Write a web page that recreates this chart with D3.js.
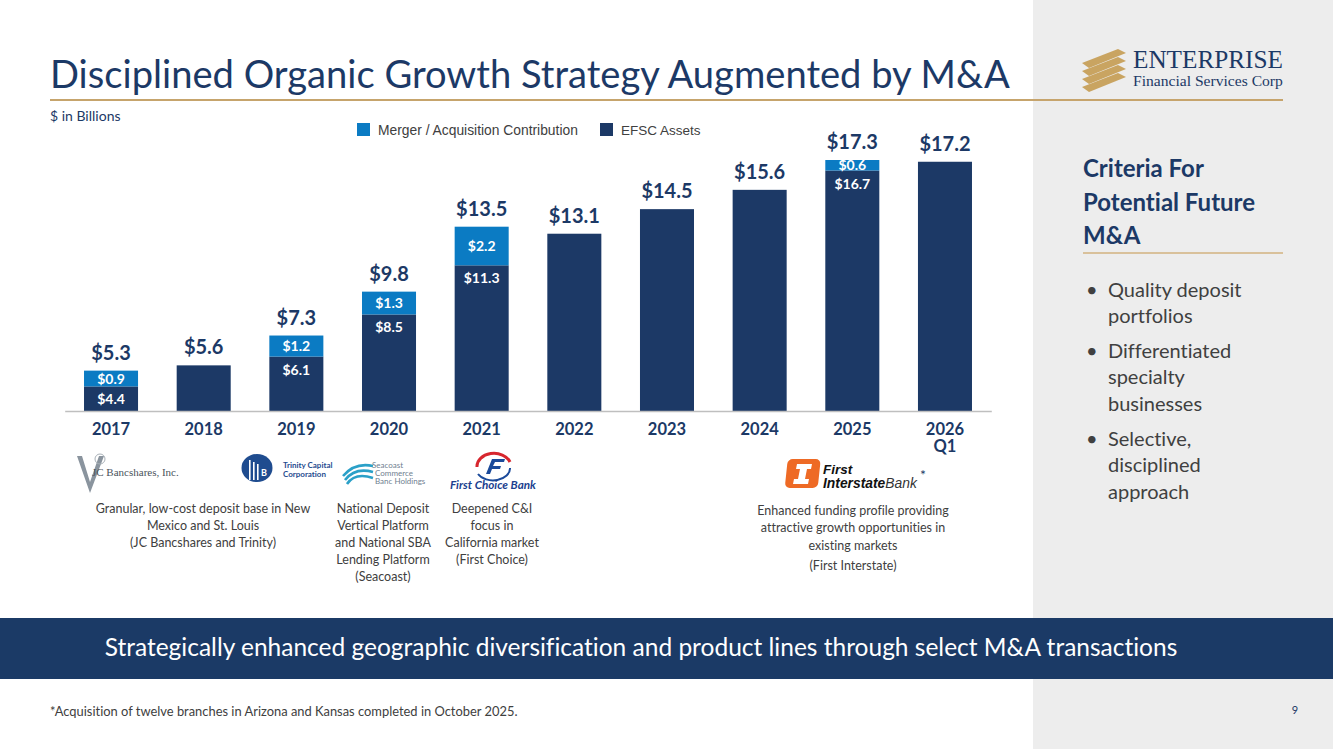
<!DOCTYPE html>
<html><head><meta charset="utf-8">
<script src="https://cdn.jsdelivr.net/npm/d3@7"></script>
<style>body{margin:0;background:#fff;} svg{display:block;} text{font-variant-ligatures:none;font-feature-settings:"liga" 0;}</style>
</head><body><svg id="c" width="1333" height="749"></svg>
<script>
// ---------- DATA ----------
const categories = ["2017","2018","2019","2020","2021","2022","2023","2024","2025","2026 Q1"];
const efscAssets = [4.4, 5.6, 6.1, 8.5, 11.3, 13.1, 14.5, 15.6, 16.7, 17.2];
const mergerContribution = [0.9, 0, 1.2, 1.3, 2.2, 0, 0, 0, 0.6, 0];
const seriesNames = ["Merger / Acquisition Contribution", "EFSC Assets"];
const titleText = "Disciplined Organic Growth Strategy Augmented by M&A";
const unitText = "$ in Billions";
const criteriaTitle = ["Criteria For", "Potential Future", "M&A"];
const bullets = [["Quality deposit","portfolios"],["Differentiated","specialty","businesses"],["Selective,","disciplined","approach"]];
const descriptions = [
  {lines:["Granular, low-cost deposit base in New","Mexico and St. Louis","(JC Bancshares and Trinity)"]},
  {lines:["National Deposit","Vertical Platform","and National SBA","Lending Platform","(Seacoast)"]},
  {lines:["Deepened C&I","focus in","California market","(First Choice)"]},
  {lines:["Enhanced funding profile providing","attractive growth opportunities in","existing markets","(First Interstate)"]}
];
const bannerText = "Strategically enhanced geographic diversification and product lines through select M&A transactions";
const footnoteText = "*Acquisition of twelve branches in Arizona and Kansas completed in October 2025.";
const pageNumber = "9";

// ---------- STYLE ----------
const NAVY = "#1c3966", LIGHT = "#0b7bc3", GREY = "#404040", GOLD = "#c6a46c";
const SANS = "Lato, 'Open Sans', sans-serif";
const svg = d3.select("#c");

function fit(sel, w) {
  const l = sel.node().getComputedTextLength();
  const fs = parseFloat(sel.attr("font-size"));
  sel.attr("font-size", fs * w / l);
  return fs * w / l;
}

// right panel background
svg.append("rect").attr("x",1033).attr("y",0).attr("width",300).attr("height",749).attr("fill","#ededed");

// title
const title = svg.append("text").attr("x",50).attr("y",88).attr("font-family",SANS)
  .attr("font-size",40).attr("fill",NAVY).text(titleText);
fit(title, 960);
svg.append("line").attr("x1",50).attr("x2",1283).attr("y1",100).attr("y2",100).attr("stroke",GOLD).attr("stroke-width",2);
svg.append("text").attr("x",50).attr("y",121).attr("font-family",SANS).attr("font-size",14).attr("fill",NAVY).text(unitText);

// Enterprise logo
const logo = svg.append("g");
for (let i = 0; i < 4; i++) {
  const o = i * 8;
  logo.append("polygon").attr("fill","#c9a461")
    .attr("points", [[1082,63+o],[1118,49+o],[1126,53+o],[1089,68+o]].map(p=>p.join(",")).join(" "));
}
const ent = logo.append("text").attr("x",1133).attr("y",68).attr("font-family","'Liberation Serif', serif")
  .attr("font-size",27).attr("fill",NAVY).text("ENTERPRISE");
fit(ent, 150);
const fsc = logo.append("text").attr("x",1133).attr("y",86).attr("font-family","'Liberation Serif', serif")
  .attr("font-size",15).attr("fill",NAVY).text("Financial Services Corp");
fit(fsc, 150);

// ---------- CHART ----------
const x = d3.scaleBand().domain(categories).range([64.7, 991.3]).paddingInner(0.417).paddingOuter(0.2085);
const y = d3.scaleLinear().domain([3, 17.3]).range([411, 160]);

const rows = categories.map((c,i)=>({cat:c, efsc:efscAssets[i], merger:mergerContribution[i]}));
const stack = d3.stack().keys(["efsc","merger"])(rows);
const colors = {efsc:NAVY, merger:LIGHT};

const chart = svg.append("g");
stack.forEach(layer => {
  chart.append("g").selectAll("rect").data(layer.filter(d=>d[1]>d[0])).join("rect")
    .attr("x", d=>x(d.data.cat)).attr("width", x.bandwidth())
    .attr("y", d=>y(d[1])).attr("height", d=>y(Math.max(d[0],3)) - y(d[1]))
    .attr("fill", colors[layer.key]);
});

// x axis
const axis = svg.append("g").attr("transform","translate(0,411)")
  .call(d3.axisBottom(x).tickSize(0).tickSizeOuter(0));
axis.select(".domain").attr("stroke","#bfbfbf").attr("stroke-width",1.5);
axis.selectAll(".tick text").each(function(d){
  const t = d3.select(this).attr("y",24).attr("dy",null).text(null)
    .attr("font-family",SANS).attr("font-size",16.5).attr("font-weight",700).attr("fill",NAVY);
  d.split(" ").forEach((p,k)=>t.append("tspan").attr("x",0).attr("dy",k?17:0).text(p));
});

// total labels
chart.append("g").selectAll("text").data(rows).join("text")
  .attr("x", d=>x(d.cat)+x.bandwidth()/2).attr("y", d=>y(d.efsc+d.merger)-11)
  .attr("text-anchor","middle").attr("font-family",SANS).attr("font-size",20).attr("font-weight",700)
  .attr("fill",NAVY).text(d=>"$"+(d.efsc+d.merger).toFixed(1));

// inner labels for stacked bars
const stacked = rows.filter(d=>d.merger>0);
chart.append("g").selectAll("text").data(stacked).join("text")
  .attr("x", d=>x(d.cat)+x.bandwidth()/2).attr("y", d=>(y(d.efsc)+y(d.efsc+d.merger))/2)
  .attr("dy","0.36em").attr("text-anchor","middle").attr("font-family",SANS).attr("font-size",14).attr("font-weight",700)
  .attr("fill","#fff").text(d=>"$"+d.merger.toFixed(1));
chart.append("g").selectAll("text").data(stacked).join("text")
  .attr("x", d=>x(d.cat)+x.bandwidth()/2).attr("y", d=>y(d.efsc)+18)
  .attr("text-anchor","middle").attr("font-family",SANS).attr("font-size",14).attr("font-weight",700)
  .attr("fill","#fff").text(d=>"$"+d.efsc.toFixed(1));

// legend
const legendPos = [357, 600];
const legendKeys = ["merger","efsc"];
seriesNames.forEach((n,i)=>{
  svg.append("rect").attr("x",legendPos[i]).attr("y",123).attr("width",13).attr("height",13).attr("fill",colors[legendKeys[i]]);
  const t = svg.append("text").attr("x",legendPos[i]+21).attr("y",135).attr("font-family","'Liberation Sans', Arial, sans-serif")
    .attr("font-size",14).attr("fill",GREY).text(n);
  if (i===0) fit(t, 200);
  else t.attr("font-size", 13.5);
});

// ---------- LOGOS ----------
const lg = svg.append("g");
// JC Bancshares
lg.append("path").attr("d","M77,456 L90,493 L104,456 L99,456 L90,482 L82,456 Z").attr("fill","#8a949e");
lg.append("circle").attr("cx",100).attr("cy",459).attr("r",5).attr("fill","none").attr("stroke","#a9b1b8").attr("stroke-width",1);
lg.append("text").attr("x",92).attr("y",476).attr("font-family","'Liberation Serif', serif").attr("font-size",11)
  .attr("fill","#4a535b").text("JC Bancshares, Inc.");
// Trinity Capital
lg.append("ellipse").attr("cx",257).attr("cy",468).attr("rx",15.5).attr("ry",14).attr("fill","#1f4c8f");
[249,253,257].forEach((xx,k)=>lg.append("rect").attr("x",xx).attr("y",460+k*2).attr("width",1.6).attr("height",20-k*2).attr("fill","#fff"));
lg.append("text").attr("x",261).attr("y",476).attr("font-family",SANS).attr("font-size",9).attr("font-weight",700).attr("fill","#fff").text("B");
lg.append("text").attr("x",283).attr("y",468).attr("font-family",SANS).attr("font-size",8).attr("font-weight",700).attr("fill","#1f4c8f").text("Trinity Capital");
lg.append("text").attr("x",283).attr("y",477).attr("font-family",SANS).attr("font-size",8).attr("font-weight",700).attr("fill","#1f4c8f").text("Corporation");
// Seacoast
[0,1,2].forEach(k=>lg.append("path").attr("d",`M${343+k*2},${476+k*4} Q${355},${462+k*5} ${373},${466+k*6}`)
  .attr("fill","none").attr("stroke","#2aa0c8").attr("stroke-width",2.6));
[["Seacoast",372,468],["Commerce",375,476],["Banc Holdings",375,484]].forEach(a=>
  lg.append("text").attr("x",a[1]).attr("y",a[2]).attr("font-family",SANS).attr("font-size",8).attr("fill","#6f8090").text(a[0]));
// First Choice Bank
lg.append("path").attr("d","M477,467 A17,13 0 0 1 510,462").attr("fill","none").attr("stroke","#d7262e").attr("stroke-width",3);
lg.append("path").attr("d","M510,468 A17,12 0 0 1 478,474").attr("fill","none").attr("stroke","#1b4a9a").attr("stroke-width",2);
lg.append("path").attr("d","M486,474 L492,459 L505,459 L504,462 L495,462 L493,466 L501,466 L500,469 L492,469 L490,474 Z").attr("fill","#1b4a9a");
const fcb = lg.append("text").attr("x",450).attr("y",489).attr("font-family",SANS).attr("font-size",10).attr("font-weight",700)
  .attr("font-style","italic").attr("fill","#1b3f8f").text("First Choice Bank");
fit(fcb, 86);
// First Interstate Bank
lg.append("rect").attr("x",787).attr("y",459).attr("width",33).attr("height",29).attr("rx",5).attr("fill","#ee6a25").attr("transform","skewX(-6) translate(49,0)");
lg.append("path").attr("d","M797,464 L812,464 L811,469 L807,469 L805,479 L809,479 L808,484 L793,484 L794,479 L798,479 L800,469 L796,469 Z").attr("fill","#fff");
lg.append("text").attr("x",823).attr("y",474).attr("font-family","'Liberation Sans', Arial, sans-serif").attr("font-size",13.5)
  .attr("font-weight",700).attr("font-style","italic").attr("fill","#111").text("First");
const fi = lg.append("text").attr("x",823).attr("y",488).attr("font-family","'Liberation Sans', Arial, sans-serif").attr("font-size",13.5)
  .attr("fill","#111").attr("font-style","italic");
fi.append("tspan").attr("font-weight",700).text("Interstate");
fi.append("tspan").attr("font-weight",400).attr("fill","#333").text("Bank");
fit(fi, 94);
lg.append("text").attr("x",920).attr("y",480).attr("font-family",SANS).attr("font-size",14).attr("fill",NAVY).text("*");

// descriptions
const descX = [203, 383, 492, 853];
const descY = [[513,530,547],[513,530,547,564,581],[513,530,547,564],[515,532,550,570]];
descriptions.forEach((d,i)=>{
  d.lines.forEach((ln,k)=>{
    svg.append("text").attr("x",descX[i]).attr("y",descY[i][k]).attr("text-anchor","middle")
      .attr("font-family",SANS).attr("font-size",12.5).attr("fill",GREY).text(ln);
  });
});

// ---------- RIGHT PANEL ----------
const critY = [177, 211, 244];
criteriaTitle.forEach((t,k)=>svg.append("text").attr("x",1083).attr("y",critY[k]).attr("font-family",SANS)
  .attr("font-size",24).attr("font-weight",700).attr("fill",NAVY).text(t));
svg.append("line").attr("x1",1083).attr("x2",1283).attr("y1",253).attr("y2",253).attr("stroke","#d9c19b").attr("stroke-width",2);
const bulletY = [[297,323],[358,384,411],[446,472,499]];
bullets.forEach((b,i)=>{
  svg.append("text").attr("x",1086).attr("y",bulletY[i][0]).attr("font-family",SANS).attr("font-size",20).attr("fill",GREY).text("•");
  b.forEach((ln,k)=>svg.append("text").attr("x",1108).attr("y",bulletY[i][k]).attr("font-family",SANS)
    .attr("font-size",20).attr("fill",GREY).text(ln));
});

// ---------- BANNER & FOOTER ----------
svg.append("rect").attr("x",0).attr("y",618).attr("width",1333).attr("height",61).attr("fill","#1b3a66");
const bt = svg.append("text").attr("x",641).attr("y",656).attr("text-anchor","middle").attr("font-family",SANS)
  .attr("font-size",22).attr("fill","#fff").text(bannerText);
fit(bt, 1073);
const fn = svg.append("text").attr("x",50).attr("y",716).attr("font-family",SANS).attr("font-size",11).attr("fill",GREY).text(footnoteText);
fit(fn, 468);
svg.append("text").attr("x",1295).attr("y",714).attr("text-anchor","middle").attr("font-family",SANS).attr("font-size",11).attr("fill",NAVY).text(pageNumber);
</script></body></html>
